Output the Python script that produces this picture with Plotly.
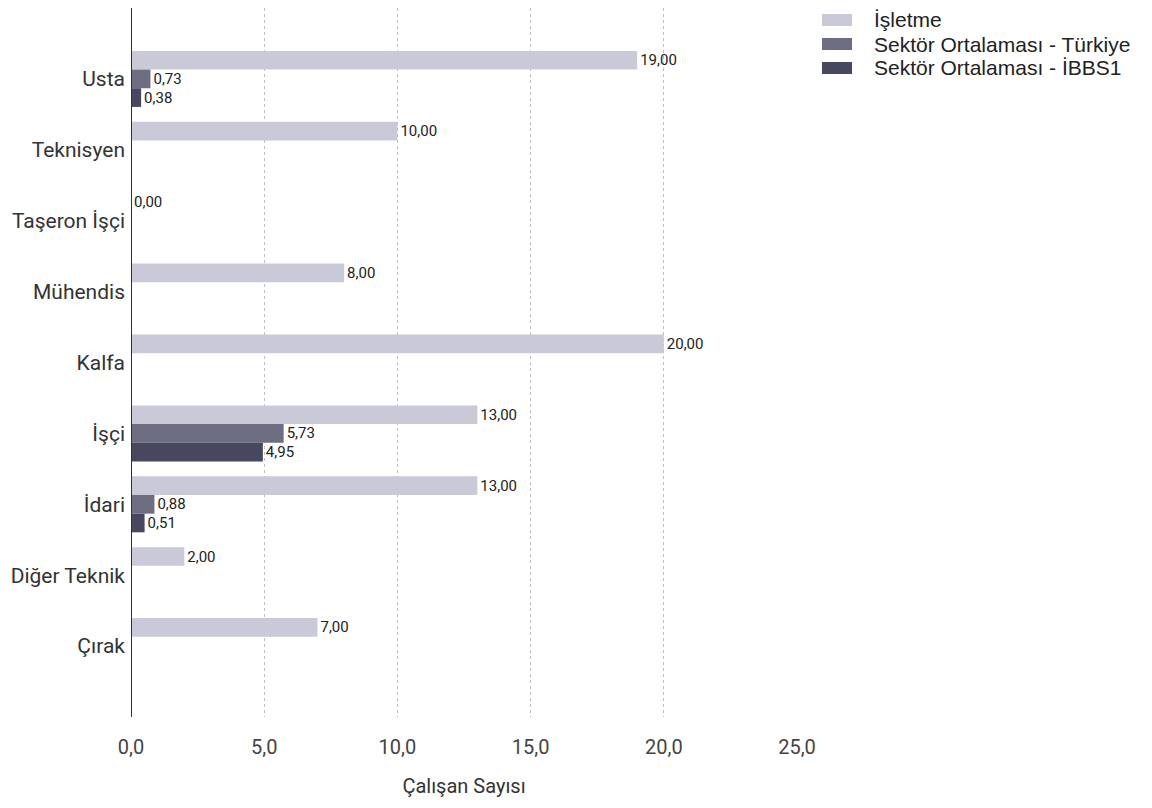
import plotly.graph_objects as go

categories = ["Usta", "Teknisyen", "Taşeron İşçi", "Mühendis", "Kalfa",
              "İşçi", "İdari", "Diğer Teknik", "Çırak"]
isletme = [19.00, 10.00, 0.00, 8.00, 20.00, 13.00, 13.00, 2.00, 7.00]
sektor_turkiye = [0.73, None, None, None, None, 5.73, 0.88, None, None]
sektor_ibbs1 = [0.38, None, None, None, None, 4.95, 0.51, None, None]
x_ticks = [0, 5, 10, 15, 20, 25]

series = [
    ("İşletme", isletme, "#c9c9d8"),
    ("Sektör Ortalaması - Türkiye", sektor_turkiye, "#6e6e82"),
    ("Sektör Ortalaması - İBBS1", sektor_ibbs1, "#474760"),
]

# figure coordinates (page body has an 8px default margin)
W, H = 1152, 808
L, R, T, B = 123, 363, 0, 99
pw, ph = W - L - R, H - T - B

def px_x(x):
    return (x - L) / pw

def px_y(y):
    return (H - B - y) / ph

fig = go.Figure()
shapes = [dict(type="line", xref="x", yref="paper", x0=0, x1=0, y0=0, y1=1,
               line=dict(color="#333333", width=2))]
annotations = []
for i, (name, vals, color) in enumerate(series):
    fig.add_trace(go.Bar(
        y=categories, x=vals, name=name, orientation="h",
        marker=dict(color=color, line=dict(width=0)),
        texttemplate="%{x:.2f}", textposition="outside",
        textfont=dict(family="Roboto", size=15, color="#222222"),
        cliponaxis=False, showlegend=False,
    ))
    cy = 12 + 24 * i
    shapes.append(dict(type="rect", xref="paper", yref="paper",
                       x0=px_x(814), x1=px_x(844), y0=px_y(cy + 6), y1=px_y(cy - 6),
                       fillcolor=color, line=dict(width=0)))
    annotations.append(dict(xref="paper", yref="paper", x=px_x(864), y=px_y(cy),
                            xanchor="left", yanchor="middle", showarrow=False,
                            text=name,
                            font=dict(family="Liberation Sans", size=21, color="#222222")))

fig.update_layout(
    width=W, height=H,
    separators=",.",
    barmode="group", bargap=0.21, bargroupgap=0,
    plot_bgcolor="white", paper_bgcolor="white",
    margin=dict(l=L, r=R, t=T, b=B, autoexpand=False),
    font=dict(family="Roboto", color="#333333"),
    showlegend=False,
    xaxis=dict(range=[0, 25], tickvals=x_ticks, tickformat=".1f",
               showgrid=True, gridcolor="#bdbdbd", griddash="dot", gridwidth=1,
               zeroline=False, showline=False, ticks="", automargin=False,
               ticklabelstandoff=16,
               tickfont=dict(size=20, color="#444444"),
               title=dict(text="Çalışan Sayısı", font=dict(size=20, color="#333333"),
                          standoff=20)),
    yaxis=dict(type="category", range=[9, -1], showgrid=False, zeroline=False,
               showline=False, ticks="", automargin=False, ticklabelstandoff=5,
               tickfont=dict(size=21, color="#333333")),
    shapes=shapes,
    annotations=annotations,
)

fig.write_html("out.html")
